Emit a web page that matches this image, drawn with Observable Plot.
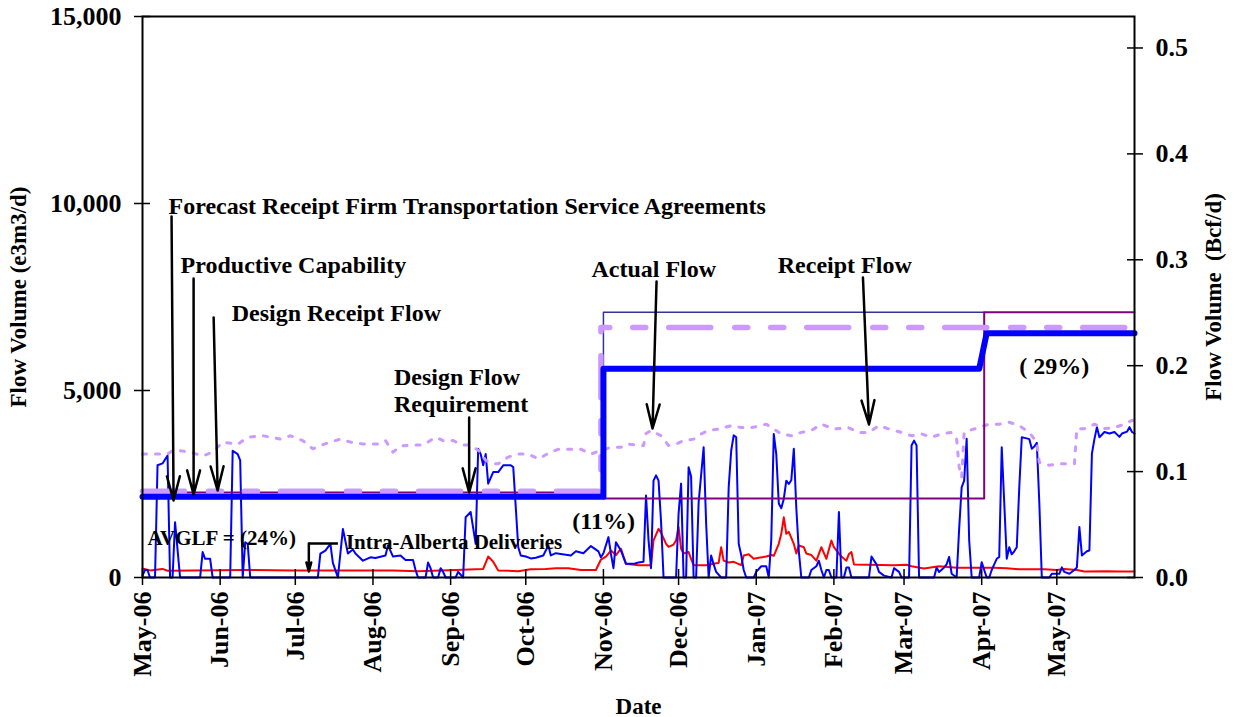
<!DOCTYPE html>
<html><head><meta charset="utf-8">
<script src="https://cdn.jsdelivr.net/npm/d3@7"></script>
<script src="https://cdn.jsdelivr.net/npm/@observablehq/plot@0.6"></script>
<style>body{margin:0;background:#fff}</style>
</head><body><div id="chart"></div>
<script>
// Days are counted from 2006-05-01; values in e3m3/d
const actualFlow = [[0,50],[1,200],[2,200],[3,0],[5,0],[6,3000],[8,3050],[10,3260],[11,0],[12,0],[13,1480],[15,0],[23,0],[24,680],[25,500],[27,500],[28,0],[35,0],[36,3390],[38,3300],[39,3130],[40,0],[41,940],[42,900],[43,0],[70,0],[71,640],[73,720],[75,900],[76,390],[78,0],[80,1300],[82,640],[84,750],[85,640],[88,450],[91,540],[93,520],[97,590],[98,860],[100,560],[103,590],[105,470],[108,470],[109,200],[110,0],[113,0],[114,400],[115,250],[116,0],[118,0],[119,250],[120,150],[121,0],[125,0],[126,150],[128,0],[129,1610],[131,1750],[133,900],[134,3440],[135,3300],[136,3000],[137,3300],[138,2510],[140,2820],[142,2820],[144,3000],[147,3000],[148,2950],[150,810],[151,590],[153,560],[155,510],[157,530],[160,590],[162,860],[163,590],[165,650],[171,590],[173,700],[176,650],[179,840],[182,700],[183,540],[184,650],[186,1080],[187,630],[188,250],[189,945],[191,720],[193,365],[196,365],[198,400],[200,420],[201,2190],[202,1000],[203,250],[204,2590],[205,2730],[206,2590],[207,1500],[208,0],[213,0],[214,1710],[215,2510],[216,0],[217,0],[218,2950],[219,2700],[220,0],[221,0],[222,2000],[224,3480],[225,1450],[226,0],[227,590],[228,350],[229,150],[231,0],[233,0],[234,2410],[235,3390],[236,3800],[237,3750],[238,900],[239,600],[240,200],[241,0],[244,0],[245,150],[247,300],[249,300],[250,0],[251,1000],[252,3840],[253,3300],[254,1980],[255,1850],[256,2100],[257,2590],[258,2500],[259,2600],[260,3440],[261,1850],[262,700],[263,0],[266,0],[267,200],[269,300],[270,450],[271,200],[272,0],[273,200],[274,200],[275,0],[277,0],[278,1750],[279,0],[280,0],[281,270],[282,270],[283,0],[290,0],[291,560],[293,350],[294,150],[296,50],[299,0],[300,250],[302,150],[303,0],[306,0],[307,3530],[308,3660],[309,3530],[310,0],[316,0],[317,270],[318,150],[320,270],[321,350],[322,550],[323,100],[325,0],[326,1300],[327,2410],[328,2590],[329,3710],[330,1000],[331,0],[334,0],[335,410],[336,200],[337,0],[338,0],[339,200],[340,350],[341,500],[342,550],[343,3480],[344,2000],[345,500],[346,810],[347,620],[348,700],[349,810],[350,2410],[351,3750],[353,3720],[354,3700],[355,3440],[356,3500],[357,3600],[358,2000],[359,0],[362,0],[363,100],[366,100],[367,270],[368,150],[370,100],[372,200],[373,270],[374,1350],[375,590],[377,700],[378,720],[379,3310],[380,3700],[381,4020],[382,3750],[384,3890],[386,3850],[388,3890],[390,3760],[391,3850],[393,3900],[394,4020],[395,3890],[396,3850]];

const intraAlberta = [[0,240],[3,190],[8,230],[10,180],[20,190],[40,200],[60,190],[80,190],[100,190],[110,170],[125,200],[133,220],[136,230],[138,560],[140,420],[142,190],[150,170],[155,220],[161,230],[165,250],[170,250],[175,200],[181,200],[183,480],[185,560],[187,720],[189,600],[191,770],[193,365],[198,330],[203,330],[204,990],[206,1300],[207,1200],[209,900],[210,820],[212,880],[213,990],[214,1350],[215,770],[216,640],[218,680],[219,500],[220,330],[225,330],[229,380],[230,390],[231,810],[232,450],[234,400],[236,420],[239,330],[240,590],[242,620],[244,500],[246,530],[249,560],[251,600],[252,580],[254,900],[255,1170],[256,1610],[257,1170],[258,1220],[260,900],[261,640],[262,860],[264,810],[265,640],[267,600],[269,450],[271,810],[273,500],[275,990],[276,810],[278,640],[279,560],[281,450],[282,630],[283,680],[284,350],[300,330],[305,340],[307,300],[312,240],[318,300],[325,260],[330,260],[340,260],[345,250],[350,220],[360,220],[365,200],[368,230],[373,200],[376,160],[385,170],[390,160],[396,160]];

const receiptFlow = [[0,3300],[10,3300],[12,3390],[15,3390],[19,3350],[24,3250],[28,3350],[32,3620],[38,3560],[42,3750],[48,3790],[55,3700],[59,3790],[64,3660],[68,3440],[71,3530],[75,3620],[79,3700],[83,3620],[88,3570],[94,3570],[97,3660],[100,3350],[103,3520],[108,3540],[112,3540],[117,3750],[120,3660],[124,3660],[128,3540],[131,3540],[135,3350],[137,3130],[140,3040],[142,3040],[146,3220],[150,3300],[154,3300],[158,3170],[162,3320],[166,3430],[171,3430],[175,3430],[179,3300],[183,3400],[187,3480],[191,3480],[194,3570],[198,3530],[200,3530],[201,3850],[203,3930],[207,3790],[210,3530],[213,3570],[216,3660],[220,3700],[223,3840],[226,3930],[230,3970],[235,4060],[239,4010],[243,4010],[247,4060],[249,4100],[252,3970],[255,3840],[259,3790],[263,3880],[267,3930],[271,4100],[276,3970],[282,4000],[286,3880],[290,3880],[294,4060],[298,3970],[303,3880],[307,3790],[311,3840],[315,3750],[319,3840],[323,3880],[325,3700],[326,2950],[327,2680],[328,3880],[330,3930],[334,4010],[338,4100],[342,4100],[346,4150],[350,4060],[354,3880],[357,3610],[358,3080],[362,3000],[366,3040],[370,3040],[372,3040],[373,3980],[376,3980],[380,4100],[384,3980],[388,4010],[392,4100],[395,4200],[396,4200]];

const firmService = [[0,2160],[184,2160],[184,5580],[334,5580],[337,6532],[396,6532]];
const designReceipt = [[0,2305],[183,2305],[183,6684],[396,6684]];
const productiveCap = [[0,2270],[184,2270],[184,2110],[336,2110],[336,7090],[396,7090]];
const designRequirement = [[0,2200],[184,2200],[184,7090],[336,7090]];

const bcfTicks = [0, 0.1, 0.2, 0.3, 0.4, 0.5];
const leftTicks = [0, 5000, 10000, 15000];
const monthOffsets = [0,31,61,92,123,153,184,214,245,276,304,335,365];

// annotation labels: [text, day, value, size]
const labels = [
  ["Forecast Receipt Firm Transportation Service Agreements", 10.4, 9706, 24],
  ["Productive Capability", 15.2, 8155, 24],
  ["Design Receipt Flow", 35.6, 6845, 24],
  ["Actual Flow", 179.2, 8048, 24],
  ["Receipt Flow", 253.6, 8155, 24],
  ["Design Flow\nRequirement", 100.4, 4412, 24],
  ["( 29%)", 350, 5428, 24],
  ["(11%)", 171.6, 1310, 24],
  ["AVGLF = (24%)", 2, 856, 21],
  ["Intra-Alberta Deliveries", 81.2, 775, 21]
];
// arrows: [day1, value1, day2, value2]
const arrows = [
  [11.6, 9652, 12.4, 2059],
  [20.4, 7995, 20.4, 2219],
  [28.4, 6952, 30, 2326],
  [130.4, 4278, 130.4, 2273],
  [205.2, 7914, 203.6, 3984],
  [287.6, 8021, 290, 4091],
  [66.4, 909, 66.4, 160]
];
const leaders = [[78, 909, 66.4, 909]];

const BCF = 28316.8;
const T0 = Date.UTC(2006, 4, 1);
const toDate = d => new Date(T0 + d * 864e5);
const rows = arr => arr.map(([d, v]) => ({date: toDate(d), value: v}));
const serif = '"Liberation Serif", "Times New Roman", serif';

const chart = Plot.plot({
  width: 1236, height: 717,
  marginLeft: 142, marginRight: 102, marginTop: 16, marginBottom: 140,
  style: {fontFamily: serif, fontWeight: "bold", fontSize: "26px", background: "white", color: "black"},
  x: {type: "utc", domain: [toDate(0), toDate(396)]},
  y: {domain: [0, 15000]},
  marks: [
    Plot.lineY(rows(intraAlberta), {x: "date", y: "value", stroke: "#ff0000", strokeWidth: 2}),
    Plot.lineY(rows(actualFlow), {x: "date", y: "value", stroke: "#0000ff", strokeWidth: 2}),
    Plot.lineY(rows(receiptFlow), {x: "date", y: "value", stroke: "#cc99ff", strokeWidth: 3, strokeDasharray: "4,9"}),
    Plot.lineY(rows(designRequirement), {x: "date", y: "value", stroke: "#333399", strokeWidth: 1.5}),
    Plot.lineY(rows(productiveCap), {x: "date", y: "value", stroke: "#800080", strokeWidth: 2}),
    Plot.lineY(rows(designReceipt), {x: "date", y: "value", stroke: "#cc99ff", strokeWidth: 5.5, strokeDasharray: "42,24,13,23,13,23"}),
    Plot.lineY(rows(firmService), {x: "date", y: "value", stroke: "#0000ff", strokeWidth: 6}),
    Plot.link(leaders, {x1: d => toDate(d[0]), y1: d => d[1], x2: d => toDate(d[2]), y2: d => d[3], stroke: "black", strokeWidth: 2.5}),
    Plot.arrow(arrows, {x1: d => toDate(d[0]), y1: d => d[1], x2: d => toDate(d[2]), y2: d => d[3], stroke: "black", strokeWidth: 2.5, headLength: 15, headAngle: 30}),
    Plot.text(labels, {x: d => toDate(d[1]), y: d => d[2], text: d => d[0], fontSize: d => d[3], textAnchor: "start", lineAnchor: "bottom", lineHeight: 1.15, fill: "black"}),
    Plot.axisY({anchor: "left", ticks: leftTicks, tickFormat: d3.format(","), tickSize: 16, dx: 8, tickPadding: 13, strokeWidth: 1.5, label: null}),
    Plot.axisY({anchor: "right", ticks: bcfTicks.map(b => b * BCF), tickFormat: v => (v / BCF).toFixed(1), tickSize: 16, dx: -8, tickPadding: 13, strokeWidth: 1.5, label: null}),
    Plot.axisX({ticks: monthOffsets.map(toDate), tickFormat: d3.utcFormat("%b-%y"), tickRotate: -90, textAnchor: "end", lineAnchor: "middle", tickSize: 16, dy: -8, tickPadding: 6, strokeWidth: 1.5, label: null}),
    Plot.text(["Flow Volume (e3m3/d)"], {frameAnchor: "left", dx: -124, rotate: -90, text: d => d, fontSize: 23, textAnchor: "middle", lineAnchor: "middle"}),
    Plot.text(["Flow Volume  (Bcf/d)"], {frameAnchor: "right", dx: 79, rotate: -90, text: d => d, fontSize: 23, textAnchor: "middle", lineAnchor: "middle"}),
    Plot.text(["Date"], {frameAnchor: "bottom", dy: 136, text: d => d, fontSize: 23, textAnchor: "middle", lineAnchor: "bottom"}),
    Plot.frame({stroke: "black", strokeWidth: 2})
  ]
});
document.getElementById("chart").appendChild(chart);
</script>
</body></html>
